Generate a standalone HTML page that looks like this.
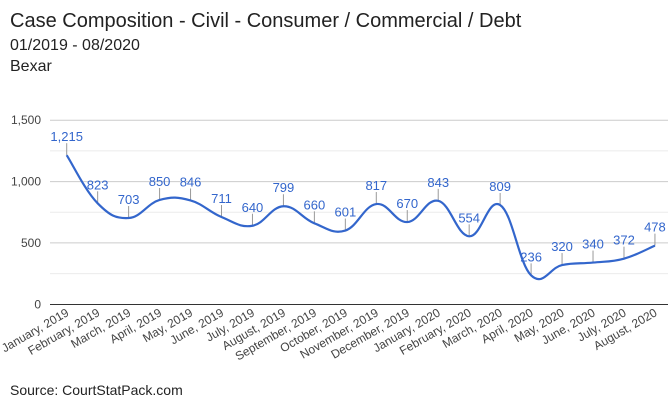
<!DOCTYPE html>
<html><head><meta charset="utf-8"><style>
body{margin:0;background:#fff;width:671px;height:406px;overflow:hidden;font-family:"Liberation Sans",sans-serif}
</style></head><body>
<svg id="s" width="671" height="406" xmlns="http://www.w3.org/2000/svg" font-family="Liberation Sans, sans-serif">
<text x="10" y="27" font-size="20" fill="#222">Case Composition - Civil - Consumer / Commercial / Debt</text>
<text x="10" y="50" font-size="16" fill="#222">01/2019 - 08/2020</text>
<text x="10" y="71" font-size="16" fill="#222">Bexar</text>
<text x="10" y="395" font-size="14" fill="#222">Source: CourtStatPack.com</text>
</svg>
<script>
var s=document.getElementById('s'),NS='http://www.w3.org/2000/svg';
function el(t,a,txt){var e=document.createElementNS(NS,t);for(var k in a)e.setAttribute(k,a[k]);if(txt!=null)e.textContent=txt;s.appendChild(e);return e;}
var v=[1215,823,703,850,846,711,640,799,660,601,817,670,843,554,809,236,320,340,372,478];
var m=["January","February","March","April","May","June","July","August","September","October","November","December"];
function Y(val){return 304.3-val*0.12273;}
function X(i){return 66.7+i*30.96;}
for(var g=250;g<=1500;g+=250){el('line',{x1:50,x2:668,y1:Y(g),y2:Y(g),stroke:g%500?'#ebebeb':'#ccc','stroke-width':1});}
[0,500,1000,1500].forEach(function(g){el('text',{x:41,y:Y(g)+4,'font-size':12,fill:'#444','text-anchor':'end'},g.toLocaleString('en-US'));});
el('line',{x1:50,x2:668,y1:304.5,y2:304.5,stroke:'#333','stroke-width':1});
var P=v.map(function(a,i){return [X(i),Y(a)];});
var d='M'+P[0][0]+','+P[0][1],k=5;
for(var i=0;i<P.length-1;i++){var p0=P[Math.max(i-1,0)],p1=P[i],p2=P[i+1],p3=P[Math.min(i+2,P.length-1)];
d+=' C'+(p1[0]+(p2[0]-p0[0])/k)+','+(p1[1]+(p2[1]-p0[1])/k)+' '+(p2[0]-(p3[0]-p1[0])/k)+','+(p2[1]-(p3[1]-p1[1])/k)+' '+p2[0]+','+p2[1];}
v.forEach(function(a,i){var x=X(i),y=Y(a);el('line',{x1:x,x2:x,y1:y,y2:y-12,stroke:'#999','stroke-width':1});
el('text',{x:x,y:y-14,'font-size':13,fill:'#3366cc','text-anchor':'middle'},a.toLocaleString('en-US'));
var yr=i<12?2019:2020,mn=m[i%12];
el('text',{x:x+3,y:315,'font-size':12,fill:'#444','text-anchor':'end',transform:'rotate(-30 '+(x+3)+' 315)'},mn+', '+yr);});
el('path',{d:d,fill:'none',stroke:'#3366cc','stroke-width':2.2});
</script>
</body></html>
